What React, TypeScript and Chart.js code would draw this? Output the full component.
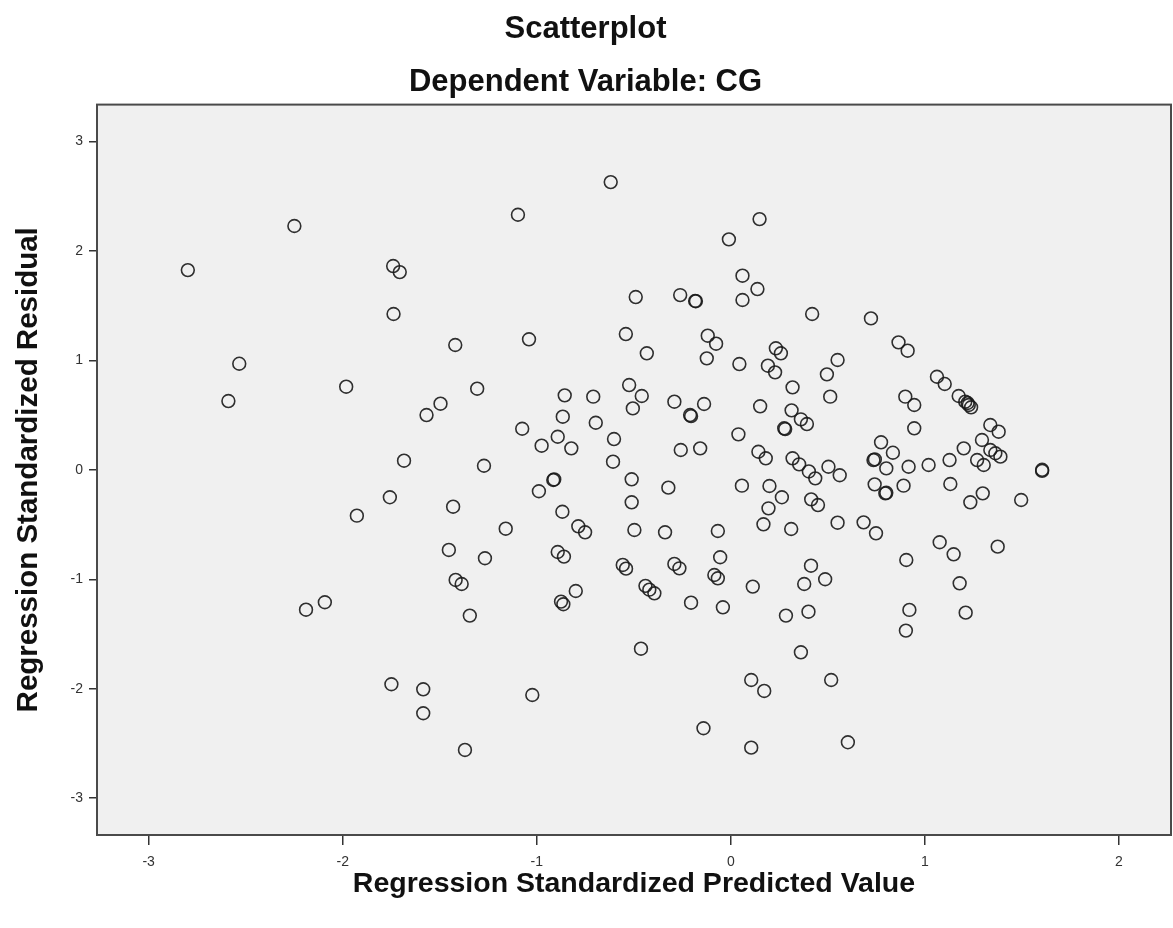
import React, { useEffect, useRef } from 'react';
import { Chart, registerables } from 'chart.js';

Chart.register(...registerables);

// Regression Standardized Predicted Value (x)
const predictedValues: number[] = [
  -2.798, -2.249, -2.533, -2.589, -1.982, -1.927, -2.092, -2.189, -1.740, -1.706,
  -1.738, -1.684, -1.757, -1.749, -1.585, -1.585, -1.568, -1.496, -1.420, -1.431,
  -1.453, -1.418, -1.387, -1.370, -1.345, -1.307, -1.272, -1.267, -1.160, -1.097,
  -1.075, -1.040, -1.023, -0.989, -0.975, -0.915, -0.910, -0.892, -0.892, -0.866,
  -0.868, -0.860, -0.856, -0.875, -0.863, -0.822, -0.799, -0.786, -0.751, -0.709,
  -0.696, -0.619, -0.607, -0.602, -0.557, -0.540, -0.541, -0.524, -0.511, -0.511,
  -0.505, -0.497, -0.490, -0.463, -0.459, -0.433, -0.440, -0.420, -0.394, -0.339,
  -0.322, -0.291, -0.291, -0.265, -0.261, -0.258, -0.210, -0.205, -0.205, -0.184,
  -0.180, -0.158, -0.141, -0.138, -0.124, -0.119, -0.085, -0.067, -0.076, -0.067,
  -0.055, -0.041, -0.010, 0.039, 0.044, 0.057, 0.060, 0.060, 0.105, 0.105,
  0.113, 0.137, 0.142, 0.148, 0.151, 0.168, 0.172, 0.180, 0.191, 0.194,
  0.199, 0.228, 0.232, 0.258, 0.263, 0.275, 0.280, 0.284, 0.311, 0.313,
  0.318, 0.318, 0.352, 0.361, 0.361, 0.378, 0.392, 0.400, 0.402, 0.413,
  0.414, 0.419, 0.435, 0.449, 0.486, 0.495, 0.503, 0.512, 0.517, 0.550,
  0.550, 0.561, 0.603, 0.684, 0.722, 0.735, 0.742, 0.741, 0.748, 0.774,
  0.796, 0.801, 0.801, 0.835, 0.864, 0.890, 0.899, 0.902, 0.904, 0.911,
  0.916, 0.920, 0.945, 0.945, 1.019, 1.062, 1.076, 1.102, 1.127, 1.131,
  1.148, 1.174, 1.179, 1.200, 1.208, 1.226, 1.238, 1.220, 1.210, 1.234,
  1.269, 1.294, 1.298, 1.303, 1.337, 1.337, 1.363, 1.389, 1.380, 1.375,
  1.496, 1.604, 1.604,
];

// Regression Standardized Residual (y)
const residualValues: number[] = [
  1.824, 2.227, 0.969, 0.628, 0.759, -0.419, -1.210, -1.278, 1.861, 1.806,
  1.423, 0.083, -0.251, -1.959, -2.005, -2.224, 0.500, 0.604, 1.140, -0.337,
  -0.732, -1.006, -1.043, -2.559, -1.332, 0.741, 0.037, -0.808, -0.538, 2.330,
  0.375, 1.192, -2.057, -0.196, 0.220, -0.093, -0.088, 0.302, -0.751, 0.485,
  -0.383, -0.793, 0.680, -1.204, -1.228, 0.196, -1.107, -0.516, -0.571, 0.668,
  0.430, 2.628, 0.074, 0.281, -0.869, -0.903, 1.240, 0.774, -0.087, -0.297,
  0.561, -0.550, 1.578, -1.634, 0.674, 1.064, -1.060, -1.095, -1.128, -0.571,
  -0.163, 0.622, -0.860, -0.900, 1.596, 0.181, 0.500, 0.490, -1.214, 1.542,
  1.540, 0.196, -2.361, 0.601, 1.018, 1.225, -0.961, -0.991, 1.152, -0.559,
  -0.799, -1.256, 2.105, 0.324, 0.966, -0.145, 1.773, 1.551, -1.920, -2.538,
  -1.067, 1.651, 0.165, 2.290, 0.580, -0.498, -2.020, 0.105, 0.951, -0.352,
  -0.148, 0.890, 1.110, 1.064, -0.251, 0.379, 0.372, -1.332, -0.541, 0.543,
  0.753, 0.105, 0.050, 0.461, -1.667, -1.043, 0.418, -1.296, -0.015, -0.876,
  -0.270, 1.423, -0.078, -0.322, -1.000, 0.872, 0.028, 0.668, -1.920, 1.003,
  -0.483, -0.050, -2.489, -0.480, 1.383, 0.089, 0.095, -0.133, -0.580, 0.251,
  -0.215, -0.210, 0.013, 0.156, 1.164, -0.145, 0.668, -1.469, -0.824, 1.088,
  0.028, -1.280, 0.592, 0.379, 0.044, 0.850, -0.662, 0.784, 0.089, -0.130,
  -0.772, 0.674, -1.037, 0.196, 0.622, 0.592, 0.571, 0.610, -1.305, -0.297,
  0.089, 0.272, -0.215, 0.044, 0.409, 0.181, 0.151, 0.120, 0.348, -0.702,
  -0.276, 0.000, -0.010,
];

const xTickValues: number[] = [-3, -2, -1, 0, 1, 2];
const yTickValues: number[] = [-3, -2, -1, 0, 1, 2, 3];

const chartTitle = 'Scatterplot';
const chartSubtitle = 'Dependent Variable: CG';
const xAxisTitle = 'Regression Standardized Predicted Value';
const yAxisTitle = 'Regression Standardized Residual';

const X_MIN = -3.266;
const X_MAX = 2.268;
const Y_MIN = -3.336;
const Y_MAX = 3.336;

const FONT = '"Liberation Sans", Arial, "DejaVu Sans", sans-serif';

const plotFramePlugin = {
  id: 'plotFrame',
  beforeDraw(chart: any) {
    const { ctx, chartArea } = chart;
    ctx.save();
    ctx.fillStyle = '#f0f0f0';
    ctx.fillRect(chartArea.left, chartArea.top, chartArea.right - chartArea.left, chartArea.bottom - chartArea.top);
    ctx.restore();
  },
  afterDraw(chart: any) {
    const { ctx, chartArea } = chart;
    ctx.save();
    ctx.strokeStyle = '#4a4a4a';
    ctx.lineWidth = 2;
    ctx.strokeRect(chartArea.left, chartArea.top, chartArea.right - chartArea.left, chartArea.bottom - chartArea.top);
    ctx.restore();
  },
};

export default function App() {
  const canvasRef = useRef<HTMLCanvasElement | null>(null);

  useEffect(() => {
    const canvas = canvasRef.current;
    if (!canvas) return;
    const data = predictedValues.map((x, i) => ({ x, y: residualValues[i] }));
    const chart = new Chart(canvas, {
      type: 'scatter',
      data: {
        datasets: [
          {
            label: 'Residuals',
            data,
            pointStyle: 'circle',
            pointRadius: 6.4,
            pointHoverRadius: 6.4,
            borderWidth: 1.6,
            borderColor: 'rgba(25,25,25,0.9)',
            backgroundColor: 'rgba(0,0,0,0)',
          },
        ],
      },
      options: {
        responsive: false,
        animation: false,
        devicePixelRatio: 1,
        layout: { autoPadding: false, padding: { top: 0, left: 0, right: 2, bottom: 0 } },
        plugins: {
          legend: { display: false },
          tooltip: { enabled: false },
          title: {
            display: true,
            text: chartTitle,
            color: '#111',
            font: { family: FONT, size: 31, weight: 'bold' },
            padding: { top: 11, bottom: 7 },
          },
          subtitle: {
            display: true,
            text: chartSubtitle,
            color: '#111',
            font: { family: FONT, size: 31, weight: 'bold' },
            padding: { top: 9, bottom: 3.2 },
          },
        },
        scales: {
          x: {
            type: 'linear',
            min: X_MIN,
            max: X_MAX,
            afterBuildTicks: (scale: any) => {
              scale.ticks = xTickValues.map((v) => ({ value: v }));
            },
            afterFit: (scale: any) => {
              scale.height = 93;
            },
            grid: { drawOnChartArea: false, drawTicks: true, tickLength: 10, color: '#333', lineWidth: 1.5 },
            border: { display: false },
            ticks: { color: '#333', font: { family: FONT, size: 14 }, padding: 9 },
            title: {
              display: true,
              text: xAxisTitle,
              color: '#111',
              font: { family: FONT, size: 28.5, weight: 'bold' },
              padding: { top: 0, bottom: 27 },
            },
          },
          y: {
            type: 'linear',
            min: Y_MIN,
            max: Y_MAX,
            afterBuildTicks: (scale: any) => {
              scale.ticks = yTickValues.map((v) => ({ value: v }));
            },
            afterFit: (scale: any) => {
              scale.width = 97;
            },
            grid: { drawOnChartArea: false, drawTicks: true, tickLength: 8, color: '#333', lineWidth: 1.5 },
            border: { display: false },
            ticks: { color: '#333', font: { family: FONT, size: 14 }, padding: 6 },
            title: {
              display: true,
              text: yAxisTitle,
              color: '#111',
              font: { family: FONT, size: 29.5, weight: 'bold' },
              padding: { top: 11, bottom: 0 },
            },
          },
        },
      },
      plugins: [plotFramePlugin],
    } as any);
    return () => chart.destroy();
  }, []);

  return (
    <div style={{ position: 'absolute', left: 0, top: 0, width: 1173, height: 928, background: '#fff' }}>
      <canvas ref={canvasRef} width={1173} height={928} style={{ width: 1173, height: 928, display: 'block' }} />
    </div>
  );
}
